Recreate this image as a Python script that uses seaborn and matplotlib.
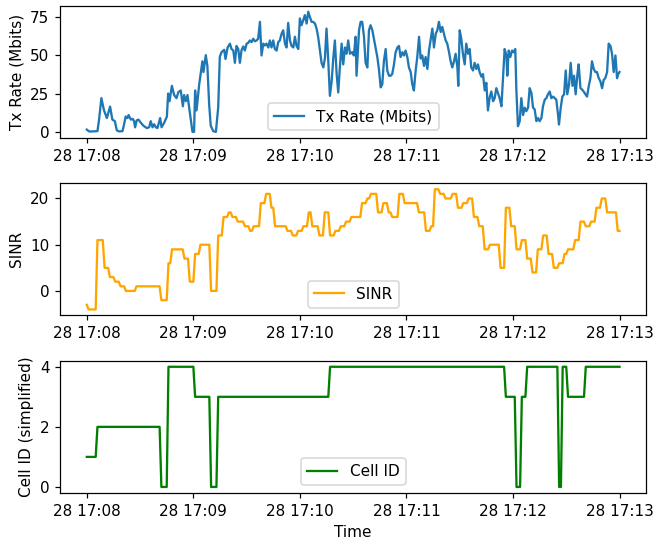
import numpy as np
import pandas as pd
import matplotlib
matplotlib.use("Agg")
import matplotlib.pyplot as plt
import seaborn as sns

# Session start; everything below is in seconds from here
start = pd.Timestamp("2024-05-28 17:08:00")
duration = 300

# Throughput log (irregular sample times, seconds)
tx_seconds = [
    0.0, 1.3, 3.2, 6.0, 6.9, 8.2, 9.7, 11.3, 13.1, 14.4,
    15.8, 16.9, 18.2, 20.1, 21.0, 21.9, 22.9, 23.5, 24.8, 25.9,
    26.6, 27.2, 28.1, 29.1, 30.4, 31.9, 33.8, 35.1, 36.0, 37.0,
    37.9, 38.9, 39.8, 41.3, 42.1, 43.6, 45.1, 45.8, 46.6, 47.9,
    49.2, 50.5, 51.6, 52.9, 54.1, 54.8, 55.8, 56.7, 58.2, 59.5,
    60.4, 61.0, 61.8, 63.3, 65.1, 65.7, 67.0, 67.9, 68.9, 69.8,
    71.2, 72.7, 74.0, 74.9, 75.9, 77.4, 78.1, 79.3, 80.6, 81.5,
    82.5, 83.4, 84.3, 85.3, 86.2, 87.1, 88.1, 89.0, 90.0, 90.9,
    91.8, 92.8, 93.7, 94.7, 95.6, 96.5, 97.5, 98.4, 99.4, 100.3,
    101.2, 102.2, 103.1, 104.0, 105.0, 105.9, 106.9, 107.8, 108.7, 109.7,
    110.6, 111.6, 112.5, 113.4, 114.4, 115.3, 116.3, 117.2, 118.1, 119.1,
    120.0, 120.9, 121.9, 122.8, 123.8, 124.7, 125.6, 126.6, 127.5, 128.5,
    129.4, 130.3, 131.3, 132.2, 133.2, 134.1, 135.0, 136.0, 136.9, 137.9,
    138.8, 139.7, 140.7, 141.6, 142.5, 143.5, 144.4, 145.4, 146.3, 147.2,
    148.2, 149.4, 150.4, 151.4, 151.9, 153.3, 154.2, 155.1, 156.1, 157.0,
    158.0, 158.9, 159.8, 160.8, 161.7, 162.6, 163.6, 164.5, 165.5, 166.4,
    167.3, 168.3, 169.2, 170.2, 171.1, 172.0, 173.0, 173.9, 174.9, 175.8,
    176.7, 177.7, 178.6, 179.5, 180.5, 181.4, 182.4, 183.3, 184.2, 185.2,
    186.1, 187.1, 188.0, 188.9, 189.9, 190.8, 191.8, 192.7, 193.6, 194.6,
    195.5, 196.5, 197.4, 198.3, 199.3, 200.2, 201.1, 202.1, 203.0, 204.0,
    204.9, 205.8, 206.8, 207.7, 208.7, 209.2, 210.0, 210.9, 211.8, 212.8,
    213.7, 214.7, 215.6, 216.5, 217.5, 218.4, 219.4, 220.3, 221.2, 222.2,
    223.1, 224.1, 225.0, 225.9, 226.9, 227.8, 228.8, 229.7, 230.6, 231.6,
    232.5, 233.5, 234.4, 235.3, 236.3, 236.8, 237.6, 238.5, 239.5, 240.4,
    241.3, 241.9, 242.8, 243.8, 244.7, 245.7, 246.6, 247.5, 248.5, 249.4,
    250.4, 251.3, 252.2, 253.2, 254.1, 255.0, 256.0, 256.9, 257.9, 258.8,
    259.7, 260.7, 261.6, 262.6, 263.5, 264.4, 265.4, 265.9, 266.9, 267.8,
    268.8, 269.7, 270.6, 271.6, 272.5, 273.5, 274.4, 275.3, 276.3, 277.0,
    278.0, 278.9, 279.8, 280.8, 281.7, 282.7, 283.6, 284.5, 285.5, 286.4,
    287.3, 288.3, 289.2, 290.2, 291.1, 292.0, 293.0, 293.9, 294.9, 295.8,
    296.7, 297.7, 298.6, 299.3, 300.0,
]
tx_mbits = [
    1.5, 0.3, 0.3, 0.5, 8, 22, 14, 9, 16.5, 8,
    7, 1, 0.3, 0.5, 5, 10, 9, 11, 8, 8.5,
    7, 3, 7.5, 8, 6, 4, 2.5, 3, 7, 3,
    5, 3, 2.5, 9, 3, 6, 10, 25, 20, 30,
    24, 22, 26, 27, 16.7, 24, 20, 24, 11, 0,
    0, 27, 14, 31, 46, 39, 50, 43, 18, 4,
    0.5, 0, 16, 49, 52, 53.5, 47.5, 55, 57.5, 54,
    53, 45, 56, 54, 45, 53, 55.7, 53, 57.5, 58,
    59.6, 58.5, 60.7, 59, 59.6, 60.7, 71.7, 49.8, 57.5, 56.3,
    57.5, 55, 59.6, 55, 59.6, 54, 53, 58.5, 59.6, 64,
    66.2, 57.5, 55, 71, 59.6, 56, 55, 62, 56, 54,
    73.9, 69.5, 72.8, 76.1, 70.6, 78.3, 75, 71.7, 71.7, 70.6,
    67.3, 61.8, 53, 45, 42, 48, 67.3, 46, 23.5, 33,
    48, 59.6, 37.7, 25.7, 42, 57.5, 44, 55, 50.9, 59.6,
    50.9, 52, 49.8, 62, 36.6, 66.2, 71.7, 71.7, 62, 45,
    42, 66.2, 69.5, 66.2, 60.7, 55, 48.8, 41, 29, 31,
    46, 54, 40, 36.6, 36.6, 37.7, 44, 51.9, 55, 56,
    48.8, 51.9, 49.8, 53, 48.8, 42, 39, 31, 27, 40,
    48.8, 62, 47.8, 49.8, 43, 48.8, 41, 53, 59.6, 67.3,
    55, 64, 66.2, 71.7, 65.1, 68.4, 64, 59.6, 57.5, 51.9,
    46, 42, 46, 50.9, 42, 30, 66.2, 60.7, 50.9, 44,
    57.5, 50.9, 54, 42, 40, 45, 41, 44, 39, 36,
    37.7, 27, 32, 14, 22.5, 26.3, 20, 22, 28.5, 25,
    22, 16.7, 35, 54, 49.8, 36.6, 53, 48.8, 53, 51.9,
    54, 27.6, 3.7, 7, 22, 11, 15.8, 13.5, 15.8, 28.5,
    25.3, 15.8, 14.7, 7, 9, 7, 9, 16.7, 21, 22,
    24.5, 26.3, 22, 23, 22, 21, 11, 4.8, 15.8, 23,
    24.5, 40, 24.5, 31, 45, 30, 36.6, 24.5, 37.7, 44,
    28.5, 27.6, 26.3, 24.5, 23, 30, 35, 46, 41, 39,
    39, 35, 33, 28.5, 34, 35, 39, 57.5, 56, 50.9,
    39, 49.8, 35, 37.7, 39,
]

# SINR (dB), reported once per second; stored as runs of constant value
sinr_levels = [
    -3, -4, 11, 5, 3, 2, 1, 0, 1, -2, 6, 9, 7, 2, 8, 10, 0, 12, 16, 17,
    16, 15, 14, 13, 14, 19, 21, 18, 14, 13, 12, 13, 14, 17, 14, 12, 17, 12, 13, 14,
    15, 16, 19, 20, 21, 17, 19, 17, 16, 21, 19, 17, 13, 14, 22, 21, 20, 21, 18, 19,
    20, 16, 14, 9, 10, 5, 18, 14, 9, 11, 7, 4, 9, 12, 8, 5, 6, 8, 9, 11,
    15, 14, 15, 18, 20, 17, 13,
]
sinr_starts = [
    0, 1, 6, 10, 13, 16, 19, 22, 28, 42, 46, 48, 55, 58, 61, 64, 70, 74, 77, 80,
    82, 85, 89, 92, 94, 98, 101, 104, 106, 113, 116, 119, 122, 125, 127, 131, 134, 137, 140, 143,
    146, 149, 155, 158, 160, 164, 167, 170, 172, 176, 179, 187, 191, 194, 196, 199, 202, 206, 209, 212,
    215, 218, 221, 224, 227, 233, 236, 239, 242, 245, 248, 251, 254, 257, 260, 263, 266, 269, 271, 275,
    278, 281, 284, 287, 290, 293, 299,
]

# Serving cell (simplified index), once per second as runs
cell_ids = [1, 2, 0, 4, 3, 0, 3, 4, 3, 0, 3, 4, 0, 4, 3, 4]
cell_starts = [0, 6, 42, 46, 61, 70, 74, 137, 236, 242, 245, 248, 266, 268, 271, 281]


def expand_runs(levels, starts, end):
    counts = np.diff(list(starts) + [end + 1])
    return np.repeat(levels, counts)


assert len(tx_seconds) == len(tx_mbits)
assert len(sinr_levels) == len(sinr_starts)

seconds = np.arange(duration + 1)
tx = pd.DataFrame({
    "Time": start + pd.to_timedelta(tx_seconds, unit="s"),
    "Tx Rate (Mbits)": tx_mbits,
})
radio = pd.DataFrame({
    "Time": start + pd.to_timedelta(seconds, unit="s"),
    "SINR": expand_runs(sinr_levels, sinr_starts, duration),
    "Cell ID": expand_runs(cell_ids, cell_starts, duration),
})

fig, axes = plt.subplots(3, 1, figsize=(654 / 110, 545 / 110), dpi=110)

sns.lineplot(data=tx, x="Time", y="Tx Rate (Mbits)", ax=axes[0],
             color="#1f77b4", label="Tx Rate (Mbits)")
sns.lineplot(data=radio, x="Time", y="SINR", ax=axes[1],
             color="orange", label="SINR")
sns.lineplot(data=radio, x="Time", y="Cell ID", ax=axes[2],
             color="green", label="Cell ID")

axes[0].set_ylabel("Tx Rate (Mbits)")
axes[1].set_ylabel("SINR")
axes[2].set_ylabel("Cell ID (simplified)")
axes[0].set_xlabel("")
axes[1].set_xlabel("")
axes[2].set_xlabel("Time")

for ax in axes:
    ax.legend(loc="lower center")

fig.subplots_adjust(left=0.092, right=0.988, top=0.9895, bottom=0.0955,
                    hspace=0.343)
fig.savefig("out.png", dpi=110)
